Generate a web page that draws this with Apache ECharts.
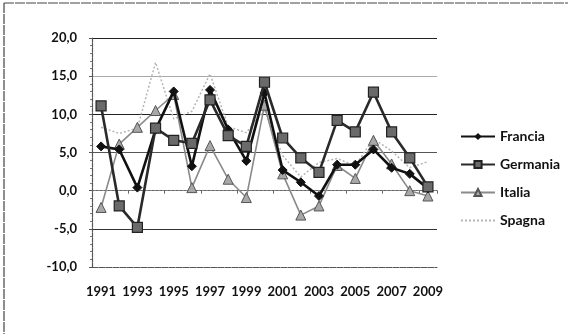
<!DOCTYPE html>
<html>
<head>
<meta charset="utf-8">
<script src="https://cdn.jsdelivr.net/npm/echarts@6/dist/echarts.min.js"></script>
<style>
  html, body { margin: 0; padding: 0; background: #fff; }
  #chart { width: 568px; height: 334px; }
</style>
</head>
<body>
<div id="chart"></div>
<script>
// Years on the category axis
const years = ['1991','1992','1993','1994','1995','1996','1997','1998','1999','2000',
               '2001','2002','2003','2004','2005','2006','2007','2008','2009'];

// Annual percentage changes per country
const francia  = [5.8, 5.4, 0.4, 8.0, 13.0, 3.2, 13.2, 8.0, 3.9, 12.8, 2.7, 1.1, -0.7, 3.4, 3.4, 5.4, 3.0, 2.2, 0.3];
const germania = [11.1, -2.0, -4.8, 8.2, 6.6, 6.2, 11.9, 7.2, 5.8, 14.2, 6.9, 4.3, 2.4, 9.2, 7.7, 12.9, 7.7, 4.3, 0.5];
const italia   = [-2.2, 6.1, 8.3, 10.5, 12.6, 0.4, 5.9, 1.5, -0.9, 11.2, 2.2, -3.2, -2.0, 3.3, 1.6, 6.6, 3.5, 0.0, -0.7];
const spagna   = [8.3, 7.5, 8.2, 16.8, 9.4, 10.4, 15.3, 8.4, 7.6, 10.6, 4.6, 1.8, 3.7, 4.2, 3.3, 6.8, 5.2, 3.0, 3.8];

// Value axis ticks
const yMin = -10, yMax = 20, yStep = 5;

const FONT = 'Lato, "Liberation Sans", sans-serif';
const fmt = v => v.toFixed(1).replace('.', ',');

const chart = echarts.init(document.getElementById('chart'), null, { renderer: 'canvas' });

chart.setOption({
  animation: false,
  backgroundColor: '#fff',
  textStyle: { fontFamily: FONT },
  grid: { left: 92, right: 131, top: 38, bottom: 67 },
  graphic: [
    // outer chart-area frame (top and left edges)
    { type: 'line', shape: { x1: 4, y1: 3, x2: 568, y2: 3 },
      style: { stroke: '#444', lineWidth: 1.2, lineDash: [10, 1] } },
    { type: 'line', shape: { x1: 4, y1: 3, x2: 4, y2: 334 },
      style: { stroke: '#444', lineWidth: 1.2, lineDash: [10, 1] } }
  ],
  legend: {
    orient: 'vertical',
    left: 455,
    top: 123,
    itemWidth: 34,
    itemHeight: 9,
    itemGap: 11,
    textStyle: { fontFamily: FONT, fontWeight: 'bold', fontSize: 14, color: '#111', lineHeight: 17 },
    data: [
      'Francia',
      'Germania',
      'Italia',
      { name: 'Spagna', itemStyle: { color: 'rgba(0,0,0,0)', borderColor: 'rgba(0,0,0,0)' } }
    ]
  },
  xAxis: [
    {
      type: 'category',
      data: years,
      boundaryGap: true,
      axisLine: { onZero: false, lineStyle: { color: '#555', width: 1, type: [6, 1] } },
      axisTick: { show: false },
      axisLabel: {
        interval: 1,
        margin: 18,
        fontFamily: FONT, fontWeight: 'bold', fontSize: 13, color: '#111'
      },
      splitLine: { show: false }
    },
    {
      type: 'category',
      data: years,
      boundaryGap: true,
      position: 'bottom',
      axisLine: { onZero: true, lineStyle: { color: '#666', width: 1, type: [2, 2] } },
      axisTick: { show: true, length: 3, lineStyle: { color: '#666' } },
      axisLabel: { show: false },
      splitLine: { show: false }
    }
  ],
  yAxis: {
    type: 'value',
    min: yMin,
    max: yMax,
    interval: yStep,
    axisLine: { show: true, lineStyle: { color: '#555', width: 1.2, type: [4, 1] } },
    axisTick: { show: true, length: 3, lineStyle: { color: '#555' } },
    minorTick: { show: true, splitNumber: 5, length: 2, lineStyle: { color: '#777' } },
    axisLabel: {
      margin: 15,
      formatter: fmt,
      fontFamily: FONT, fontWeight: 'bold', fontSize: 13, color: '#111'
    },
    splitLine: {
      show: true,
      lineStyle: {
        // -10, -5, 0, 5, 10, 15, 20
        color: ['rgba(0,0,0,0)', '#333', '#999', '#555', '#222', '#aaa', '#222'],
        width: 1
      }
    }
  },
  series: [
    {
      name: 'Francia',
      type: 'line',
      data: francia,
      symbol: 'diamond',
      symbolSize: 9,
      itemStyle: { color: '#111', borderColor: '#111' },
      lineStyle: { color: '#111', width: 2.6 },
      z: 3
    },
    {
      name: 'Germania',
      type: 'line',
      data: germania,
      symbol: 'rect',
      symbolSize: 10,
      itemStyle: { color: '#6a6a6a', borderColor: '#222', borderWidth: 1.2 },
      lineStyle: { color: '#2a2a2a', width: 2.6 },
      z: 4
    },
    {
      name: 'Italia',
      type: 'line',
      data: italia,
      symbol: 'triangle',
      symbolSize: 10,
      itemStyle: { color: '#a8a8a8', borderColor: '#555', borderWidth: 1 },
      lineStyle: { color: '#8a8a8a', width: 1.6 },
      z: 2
    },
    {
      name: 'Spagna',
      type: 'line',
      data: spagna,
      symbol: 'circle',
      symbolSize: 3,
      showSymbol: false,
      itemStyle: { color: '#b5b5b5' },
      lineStyle: { color: '#b5b5b5', width: 1.5, type: [2, 2] },
      z: 1
    }
  ]
});
</script>
</body>
</html>
